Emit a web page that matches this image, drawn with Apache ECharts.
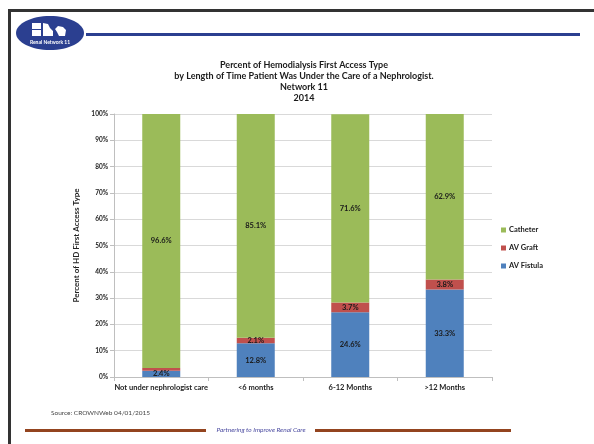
<!DOCTYPE html>
<html><head><meta charset="utf-8">
<script src="https://cdn.jsdelivr.net/npm/echarts@6/dist/echarts.min.js"></script>
<style>html,body{margin:0;padding:0;background:#fff}#c{width:594px;height:444px}</style>
</head><body><div id="c"></div>
<script>
const categories = ['Not under nephrologist care', '<6 months', '6-12 Months', '>12 Months'];
const fistula = [2.4, 12.8, 24.6, 33.3];
const graft = [1.0, 2.1, 3.7, 3.8];
const catheter = [96.6, 85.1, 71.6, 62.9];
const titleLines = ['Percent of Hemodialysis First Access Type',
  'by Length of Time Patient Was Under the Care of a Nephrologist.',
  'Network 11', '2014'];

const F = 'Lato, "Open Sans", sans-serif';
const lbl = {show: true, position: 'inside', fontSize: 7.5, fontWeight: 'bold', color: '#1a1a1a', fontFamily: F,
  formatter: p => p.value.toFixed(1) + '%'};
function mk(arr, hideBelow) {
  return arr.map(v => v < hideBelow ? {value: v, label: {show: false}} : v);
}
const chart = echarts.init(document.getElementById('c'), null, {renderer: 'canvas'});
chart.setOption({
  backgroundColor: '#fff',
  animation: false,
  grid: {left: 114, top: 114, width: 378, height: 263},
  legend: {orient: 'vertical', left: 496, top: 221, itemWidth: 5, itemHeight: 5, itemGap: 10,
    icon: 'rect', data: ['Catheter', 'AV Graft', 'AV Fistula'],
    textStyle: {fontSize: 7.5, fontWeight: 'bold', color: '#222', fontFamily: F, padding: [0, 0, 0, -2]}},
  xAxis: {type: 'category', data: categories,
    axisLine: {lineStyle: {color: '#bfbfbf'}},
    axisTick: {show: true, alignWithLabel: false, length: 4, lineStyle: {color: '#bfbfbf'}},
    axisLabel: {fontSize: 7.5, fontWeight: 'bold', color: '#222', fontFamily: F, margin: 7, interval: 0}},
  yAxis: {type: 'value', min: 0, max: 100, interval: 10,
    name: 'Percent of HD First Access Type', nameLocation: 'middle', nameGap: 29, nameRotate: 90,
    nameTextStyle: {fontSize: 8, fontWeight: 'bold', color: '#222', fontFamily: F},
    axisLine: {show: true, lineStyle: {color: '#bfbfbf'}},
    axisTick: {show: true, length: 4, lineStyle: {color: '#bfbfbf'}},
    splitLine: {lineStyle: {color: '#d9d9d9'}},
    axisLabel: {formatter: '{value}%', fontSize: 6.5, fontWeight: 'bold', color: '#222', fontFamily: F, margin: 6}},
  series: [
    {name: 'AV Fistula', type: 'bar', stack: 's', barWidth: 38, data: mk(fistula, 0),
      itemStyle: {color: '#4f81bd'}, label: lbl},
    {name: 'AV Graft', type: 'bar', stack: 's', data: mk(graft, 1.5),
      itemStyle: {color: '#c0504d'}, label: lbl},
    {name: 'Catheter', type: 'bar', stack: 's', data: mk(catheter, 0),
      itemStyle: {color: '#9bbb59'}, label: lbl}
  ],
  graphic: [
    {type: 'rect', shape: {x: 8, y: 9, width: 600, height: 3}, style: {fill: '#333'}, silent: true},
    {type: 'rect', shape: {x: 8, y: 9, width: 3, height: 440}, style: {fill: '#333'}, silent: true},
    {type: 'rect', shape: {x: 86, y: 33, width: 494, height: 3}, style: {fill: '#2b3f90'}, silent: true},
    {type: 'ellipse', shape: {cx: 50, cy: 33, rx: 34, ry: 17}, style: {fill: '#2b3f90'}, silent: true},
    {type: 'rect', shape: {x: 32, y: 23, width: 9, height: 6}, style: {fill: '#fff'}, silent: true},
    {type: 'rect', shape: {x: 32, y: 30, width: 9, height: 6}, style: {fill: '#fff'}, silent: true},
    {type: 'polygon', shape: {points: [[43,23],[48,24],[50,28],[53,31],[53,36],[43,36]]}, style: {fill: '#fff'}, silent: true},
    {type: 'polygon', shape: {points: [[55,29],[58,26],[63,27],[66,30],[65,36],[59,36],[57,32]]}, style: {fill: '#fff'}, silent: true},
    {type: 'text', x: 50, y: 42, style: {text: 'Renal Network 11', fill: '#fff', fontSize: 5, fontWeight: 'bold', fontFamily: F, textAlign: 'center', textVerticalAlign: 'middle'}, silent: true},
    ...titleLines.map((t, i) => ({type: 'text', x: 304, y: 65 + i * 11,
      style: {text: t, fontSize: 9, fontWeight: 'bold', fill: '#1a1a1a', fontFamily: F, textAlign: 'center', textVerticalAlign: 'middle'}, silent: true})),
    {type: 'text', x: 51, y: 413, style: {text: 'Source: CROWNWeb 04/01/2015', fontSize: 6.5, fill: '#444', fontFamily: F, textVerticalAlign: 'middle'}, silent: true},
    {type: 'rect', shape: {x: 25, y: 429, width: 181, height: 3}, style: {fill: '#93441f'}, silent: true},
    {type: 'rect', shape: {x: 315, y: 429, width: 196, height: 3}, style: {fill: '#93441f'}, silent: true},
    {type: 'text', x: 261, y: 430, style: {text: 'Partnering to Improve Renal Care', fontSize: 6.5, fontStyle: 'italic', fill: '#4b4ba0', fontFamily: F, textAlign: 'center', textVerticalAlign: 'middle'}, silent: true}
  ]
});
</script></body></html>
